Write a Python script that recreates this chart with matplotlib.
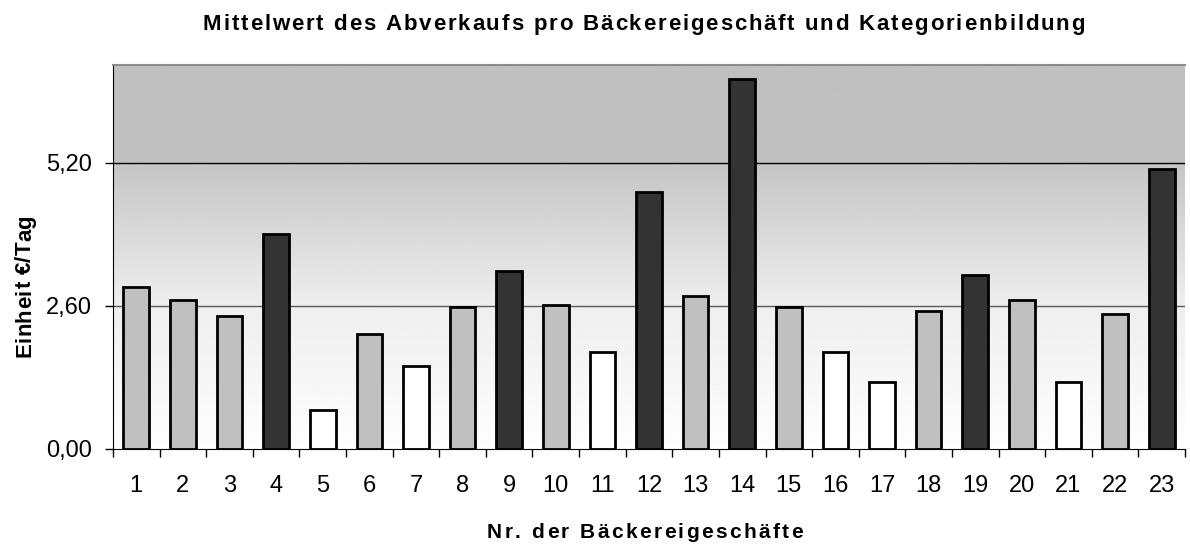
import matplotlib.pyplot as plt
import numpy as np
from matplotlib.font_manager import FontProperties, findfont
from matplotlib.ft2font import FT2Font

plt.rcParams['font.family'] = ['Liberation Sans', 'DejaVu Sans']

# Mittelwert je Bäckereigeschäft (€/Tag) und Kategorie
shops = [str(i) for i in range(1, 24)]
values = [2.95, 2.71, 2.42, 3.90, 0.70, 2.09, 1.51, 2.59, 3.24, 2.62, 1.76, 4.68,
          2.79, 6.73, 2.59, 1.76, 1.22, 2.50, 3.16, 2.71, 1.22, 2.46, 5.09]
category = ['mid', 'mid', 'mid', 'high', 'low', 'mid', 'low', 'mid', 'high', 'mid', 'low', 'high',
            'mid', 'high', 'mid', 'low', 'low', 'mid', 'high', 'mid', 'low', 'mid', 'high']
cat_colors = {'low': '#ffffff', 'mid': '#c0c0c0', 'high': '#333333'}
yticks = [0.0, 2.6, 5.2]
ytick_labels = ['0,00', '2,60', '5,20']

title = 'Mittelwert des Abverkaufs pro Bäckereigeschäft und Kategorienbildung'
xlabel = 'Nr. der Bäckereigeschäfte'
ylabel = 'Einheit €/Tag'

W, H, DPI = 1190, 546, 100
fig = plt.figure(figsize=(W / DPI, H / DPI), dpi=DPI)
ax = fig.add_axes([113 / W, 97 / H, 1072 / W, 384 / H])


def spaced_text(x0, y0, s, size, length, vertical=False):
    # old Excel-style letter spaced text, stretched to a given pixel length
    prop = FontProperties(family='Liberation Sans', weight='bold', size=size)
    font = FT2Font(findfont(prop))
    font.set_size(size, DPI)
    adv = []
    for c in s:
        g = font.load_char(ord(c))
        adv.append(g.linearHoriAdvance / 65536)
    extra = (length - sum(adv)) / (len(s) - 1)
    pos = 0.0
    for c, a in zip(s, adv):
        if vertical:
            fig.text(x0 / W, (H - (y0 - pos)) / H, c, rotation=90, rotation_mode='anchor',
                     ha='left', va='baseline', fontproperties=prop)
        else:
            fig.text((x0 + pos) / W, (H - y0) / H, c, ha='left', va='baseline',
                     fontproperties=prop)
        pos += a + extra


ymax = 6.98
x = np.arange(len(shops))
ax.set_xlim(-0.5, len(shops) - 0.5)
ax.set_ylim(0, ymax)

# background gradient: flat grey above 5.2, fading to white at the bottom
ys = np.linspace(0, ymax, 400)
shade = np.interp(ys, [0, 2.6, 5.2, 5.2001, ymax], [0.995, 0.935, 0.77, 0.753, 0.753])
ax.imshow(shade[:, None], extent=[-0.5, len(shops) - 0.5, 0, ymax], origin='lower',
          cmap='gray', vmin=0, vmax=1, aspect='auto', zorder=0)

ax.axhline(5.2, color='black', lw=1.0, zorder=1)
ax.axhline(2.6, color='#5a5a5a', lw=1.0, zorder=1)

ax.bar(x, values, width=0.55, color=[cat_colors[c] for c in category],
       edgecolor='black', linewidth=2, zorder=2)

ax.set_yticks(yticks)
ax.set_yticklabels(ytick_labels, fontsize=17)
ax.set_xticks(x)
ax.set_xticklabels(shops, fontsize=17)
ax.set_xticks(np.arange(-0.5, len(shops)), minor=True)
ax.tick_params(axis='x', which='major', length=0, pad=18.5)
ax.tick_params(axis='x', which='minor', length=6, width=1, direction='out', color='black')
ax.tick_params(axis='y', length=6, width=1, direction='out', pad=9)

ax.spines['right'].set_visible(False)
ax.spines['top'].set_color('#8c8c8c')
ax.spines['top'].set_linewidth(1.5)
ax.spines['left'].set_color('black')
ax.spines['bottom'].set_color('black')

spaced_text(203, 30, title, 16, 882)
spaced_text(487, 538, xlabel, 15, 316)
spaced_text(31, 357, ylabel, 16, 142, vertical=True)

fig.savefig('out.png', dpi=DPI)
